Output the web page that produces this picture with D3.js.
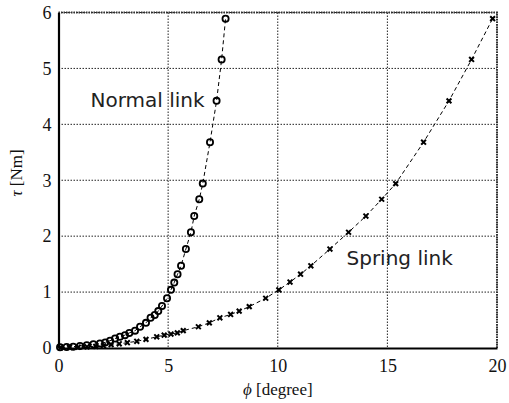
<!DOCTYPE html>
<html>
<head>
<meta charset="utf-8">
<script src="https://cdn.jsdelivr.net/npm/d3@7"></script>
<style>
  html, body { margin: 0; padding: 0; background: #fff; }
  svg { display: block; }
  .serif { font-family: "Liberation Serif", "Times New Roman", Times, serif; }
  .sans { font-family: "DejaVu Sans", Verdana, sans-serif; }
</style>
</head>
<body>
<svg id="chart" width="509" height="403"></svg>
<script>
// Torque vs. deflection angle for the two link types
const normalPhi = [0.07, 0.37, 0.67, 0.98, 1.29, 1.59, 1.89, 2.13, 2.35, 2.58, 2.8, 3.03, 3.23, 3.49, 3.72, 3.99, 4.2, 4.39, 4.55, 4.72, 4.95, 5.13, 5.28, 5.43, 5.59, 5.81, 6.04, 6.19, 6.42, 6.58, 6.91, 7.21, 7.44, 7.62];
const normalTau = [0.012, 0.018, 0.024, 0.036, 0.05, 0.066, 0.08, 0.1, 0.13, 0.17, 0.2, 0.23, 0.27, 0.31, 0.38, 0.45, 0.54, 0.59, 0.66, 0.75, 0.89, 1.04, 1.17, 1.32, 1.47, 1.77, 2.07, 2.36, 2.66, 2.94, 3.68, 4.42, 5.16, 5.89];

const springPhi = [0.1, 0.5, 0.9, 1.3, 1.7, 2.05, 2.4, 2.77, 3.14, 3.57, 3.99, 4.48, 4.82, 5.13, 5.42, 5.69, 6.38, 6.88, 7.36, 7.85, 8.24, 8.7, 9.45, 10.05, 10.56, 11.04, 11.51, 12.38, 13.23, 14.02, 14.74, 15.38, 16.65, 17.81, 18.84, 19.8];
const springTau = [0.005, 0.01, 0.015, 0.022, 0.03, 0.04, 0.06, 0.075, 0.095, 0.12, 0.155, 0.2, 0.23, 0.25, 0.27, 0.31, 0.38, 0.45, 0.54, 0.6, 0.66, 0.74, 0.89, 1.04, 1.18, 1.32, 1.47, 1.77, 2.07, 2.36, 2.66, 2.94, 3.68, 4.42, 5.16, 5.89];

const xTicks = [0, 5, 10, 15, 20];
const yTicks = [0, 1, 2, 3, 4, 5, 6];

const svg = d3.select("#chart");
const plotL = 58.5, plotR = 497, plotT = 12.5, plotB = 348;

const x = d3.scaleLinear().domain([0, 20]).range([plotL, plotR]);
const y = d3.scaleLinear().domain([0, 6]).range([plotB, plotT]);

// dotted grid
const grid = svg.append("g").attr("stroke", "#222").attr("stroke-width", 1)
  .attr("stroke-dasharray", "1.5,1.5").attr("fill", "none");
grid.selectAll("line.v").data(xTicks.slice(1)).join("line")
  .attr("x1", d => x(d)).attr("x2", d => x(d)).attr("y1", plotT).attr("y2", plotB);
grid.selectAll("line.h").data(yTicks.slice(1)).join("line")
  .attr("x1", plotL).attr("x2", plotR).attr("y1", d => y(d)).attr("y2", d => y(d));
// thicker dotted top/right border
svg.append("path")
  .attr("d", `M${plotL},${plotT}H${plotR}V${plotB}`)
  .attr("fill", "none").attr("stroke", "#333").attr("stroke-width", 2)
  .attr("stroke-dasharray", "1.5,1");

// axes
const fmt = d3.format("d");
const xAxis = d3.axisBottom(x).tickValues(xTicks).tickFormat(fmt).tickSize(0).tickPadding(11);
const yAxis = d3.axisLeft(y).tickValues(yTicks).tickFormat(fmt).tickSize(0).tickPadding(7);

const gx = svg.append("g").attr("transform", `translate(0,${plotB})`).call(xAxis);
const gy = svg.append("g").attr("transform", `translate(${plotL},0)`).call(yAxis);
[gx, gy].forEach(g => {
  g.attr("font-family", null).attr("font-size", null).classed("serif", true);
  g.select(".domain").attr("stroke", "#000").attr("stroke-width", 2.2);
  g.selectAll("text").style("font-size", "18px").attr("fill", "#111");
});

// dashed curves
const line = d3.line().x(d => x(d[0])).y(d => y(d[1]));
const normalPts = normalPhi.map((p, i) => [p, normalTau[i]]);
const springPts = springPhi.map((p, i) => [p, springTau[i]]);

svg.append("path").datum(normalPts).attr("d", line)
  .attr("fill", "none").attr("stroke", "#000").attr("stroke-width", 1)
  .attr("stroke-dasharray", "4,3");
svg.append("path").datum(springPts).attr("d", line)
  .attr("fill", "none").attr("stroke", "#000").attr("stroke-width", 1)
  .attr("stroke-dasharray", "4,3");

// circle markers (normal link)
svg.append("g").selectAll("circle").data(normalPts).join("circle")
  .attr("cx", d => x(d[0])).attr("cy", d => y(d[1])).attr("r", 3.1)
  .attr("fill", "none").attr("stroke", "#000").attr("stroke-width", 1.8);

// cross markers (spring link)
const s = 2.4;
svg.append("g").selectAll("path").data(springPts).join("path")
  .attr("d", d => {
    const cx = x(d[0]), cy = y(d[1]);
    return `M${cx - s},${cy - s}L${cx + s},${cy + s}M${cx - s},${cy + s}L${cx + s},${cy - s}`;
  })
  .attr("fill", "none").attr("stroke", "#000").attr("stroke-width", 2);

// series annotations
svg.append("text").attr("class", "sans").attr("x", 90.5).attr("y", 107).text("Normal link")
  .style("font-size", "20px").attr("fill", "#222");
svg.append("text").attr("class", "sans").attr("x", 346.5).attr("y", 265).text("Spring link")
  .style("font-size", "20px").attr("fill", "#222");

// axis titles
const xt = svg.append("text").attr("class", "serif").attr("x", x(10)).attr("y", 395)
  .attr("text-anchor", "middle").style("font-size", "17px").attr("fill", "#111");
xt.append("tspan").attr("font-style", "italic").text("ϕ");
xt.append("tspan").text(" [degree]");

const yt = svg.append("text").attr("class", "serif")
  .attr("transform", `translate(22,173) rotate(-90)`)
  .attr("text-anchor", "middle").style("font-size", "17px").attr("fill", "#111");
yt.append("tspan").attr("font-style", "italic").text("τ");
yt.append("tspan").text(" [Nm]");
</script>
</body>
</html>
